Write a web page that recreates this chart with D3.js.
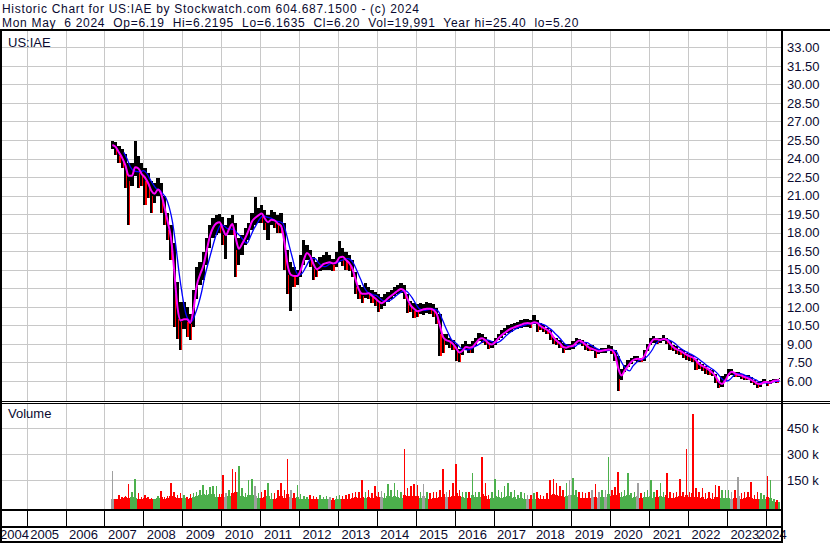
<!DOCTYPE html>
<html>
<head>
<meta charset="utf-8">
<script src="https://cdn.jsdelivr.net/npm/d3@7"></script>
<style>
  body { margin: 0; background: #fff; }
  text { font-family: "Liberation Sans", Arial, sans-serif; font-size: 13px; fill: #0a0a30; }
  .head { font-size: 12px; letter-spacing: 0.7px; white-space: pre; }
</style>
</head>
<body>
<div id="chart"></div>
<script>
// monthly bars, Mar 2007 .. May 2024
const closes = [
  25.1, 24.8, 24.2, 23.9, 23.0, 22.2, 23.0, 23.6, 22.8, 22.7,
  22.2, 21.8, 21.0, 21.3, 21.7, 20.6, 19.6, 18.2, 17.0, 13.0, 11.0, 10.8,
  11.2, 10.8, 10.6, 13.0, 14.4, 14.8, 15.8, 17.2, 18.2, 18.6, 18.9, 18.8,
  17.8, 17.8, 18.8, 18.6, 16.6, 16.8, 17.4, 17.8, 18.6, 19.2, 19.2, 19.6,
  19.5, 18.8, 18.9, 19.2, 18.8, 18.7, 18.4, 16.2, 14.6, 14.6, 14.4, 14.6,
  15.3, 16.3, 16.4, 15.8, 15.1, 15.0, 15.4, 15.5, 15.6, 15.6, 15.4, 15.8,
  16.2, 15.9, 15.7, 15.4, 14.8, 13.6, 13.2, 12.9, 13.2, 13.0, 12.8, 12.6,
  12.3, 12.3, 12.6, 12.8, 13.0, 13.2, 13.4, 13.5, 13.1, 12.2, 12.0, 11.7,
  11.6, 11.8, 11.8, 11.9, 11.8, 11.7, 11.2, 9.8, 9.3, 9.3, 9.1, 8.9,
  8.4, 8.2, 8.7, 8.8, 8.6, 8.9, 9.2, 9.5, 9.4, 9.2, 8.9, 9.0,
  9.3, 9.6, 9.8, 10.0, 10.2, 10.3, 10.4, 10.5, 10.6, 10.7, 10.7, 10.6,
  10.9, 10.5, 10.4, 10.2, 10.1, 9.8, 9.3, 9.2, 8.9, 8.6, 8.8, 8.8,
  8.9, 9.3, 9.25, 9.05, 8.8, 8.6, 8.6, 8.4, 8.4, 8.5, 8.5, 8.6,
  8.4, 7.9, 6.2, 6.7, 7.0, 7.4, 7.7, 7.8, 7.8, 7.7, 8.3, 8.9,
  9.3, 9.45, 9.3, 9.35, 9.45, 9.2, 8.85, 8.6, 8.5, 8.4, 8.2, 8.05,
  7.95, 7.85, 7.5, 7.25, 7.15, 7.0, 6.8, 6.55, 6.2, 5.7, 5.8, 6.3,
  6.75, 6.75, 6.5, 6.5, 6.4, 6.25, 6.2, 6.0, 5.9, 5.65, 5.85, 6.0,
  5.8, 5.95, 6.1, 6.0, 6.2
];
const highs = [
  25.4, 25.3, 25.0, 24.8, 24.4, 23.6, 23.6, 25.4, 24.2, 23.6,
  23.2, 22.8, 22.2, 22.0, 22.4, 22.0, 21.0, 19.6, 18.6, 17.2, 14.0, 12.4,
  12.4, 12.0, 11.4, 13.4, 15.2, 15.6, 16.4, 17.6, 18.6, 19.2, 19.4, 19.5,
  19.3, 18.6, 19.2, 19.4, 18.8, 17.6, 17.8, 18.4, 18.8, 19.6, 20.9, 20.0,
  20.2, 19.8, 19.4, 19.8, 19.7, 19.4, 19.6, 18.8, 16.6, 15.6, 15.2, 15.0,
  16.2, 17.4, 17.0, 16.6, 16.0, 15.6, 16.0, 16.2, 16.4, 16.2, 15.9, 16.4,
  17.3, 16.8, 16.4, 16.2, 15.8, 14.8, 13.8, 13.6, 13.9, 13.6, 13.4, 13.2,
  13.0, 12.8, 13.0, 13.2, 13.4, 13.6, 13.8, 13.9, 13.8, 13.0, 12.5, 12.3,
  12.2, 12.3, 12.2, 12.4, 12.3, 12.2, 11.9, 11.4, 9.8, 9.8, 9.5, 9.3,
  9.0, 8.6, 9.0, 9.2, 9.0, 9.2, 9.5, 9.9, 9.8, 9.6, 9.3, 9.2,
  9.5, 9.8, 10.1, 10.3, 10.5, 10.6, 10.7, 10.8, 10.9, 11.0, 11.0, 10.9,
  11.35, 10.9, 10.7, 10.5, 10.3, 10.1, 9.6, 9.5, 9.3, 9.1, 9.0, 9.0,
  9.2, 9.5, 9.4, 9.3, 9.1, 8.9, 8.9, 8.7, 8.6, 8.7, 8.7, 8.9,
  8.8, 8.5, 8.0, 7.0, 7.3, 7.7, 7.9, 8.0, 8.0, 7.9, 8.5, 9.0,
  9.5, 9.65, 9.5, 9.5, 9.7, 9.5, 9.2, 8.9, 8.8, 8.6, 8.5, 8.3,
  8.2, 8.1, 7.8, 7.5, 7.4, 7.2, 7.0, 6.9, 6.6, 6.0, 6.4, 6.6,
  7.0, 6.95, 6.75, 6.7, 6.6, 6.5, 6.45, 6.3, 6.1, 5.9, 6.0, 6.15,
  6.0, 6.1, 6.2, 6.2, 6.22
];
const lows = [
  24.8, 24.3, 23.6, 23.2, 21.6, 18.6, 21.8, 22.6, 21.6, 21.8,
  20.2, 20.8, 19.6, 20.4, 21.0, 19.6, 18.6, 17.4, 15.8, 10.4, 9.4, 8.5,
  10.2, 9.6, 9.3, 10.4, 12.6, 13.8, 14.2, 15.4, 16.8, 17.6, 17.8, 18.0,
  17.0, 15.9, 17.8, 17.8, 14.4, 15.4, 16.2, 17.0, 17.4, 18.2, 18.6, 18.8,
  18.8, 18.2, 17.4, 18.6, 18.4, 18.0, 18.0, 15.0, 13.0, 11.7, 13.6, 13.8,
  14.4, 15.4, 15.8, 15.2, 14.2, 14.4, 14.9, 15.0, 15.0, 15.0, 14.9, 15.2,
  15.6, 15.3, 15.0, 14.9, 14.4, 13.0, 12.6, 12.3, 12.7, 12.6, 12.3, 12.1,
  11.6, 11.8, 12.1, 12.4, 12.6, 12.9, 13.0, 13.1, 12.6, 11.5, 11.6, 11.1,
  11.2, 11.4, 11.3, 11.5, 11.4, 11.2, 10.6, 8.0, 8.3, 8.9, 8.7, 8.5,
  7.6, 7.5, 8.1, 8.5, 8.3, 8.3, 8.8, 9.2, 9.1, 8.9, 8.6, 8.7,
  8.9, 9.3, 9.5, 9.7, 9.9, 10.0, 10.2, 10.2, 10.3, 10.4, 10.4, 10.3,
  10.6, 10.0, 10.1, 10.0, 9.8, 9.3, 9.0, 8.9, 8.7, 8.3, 8.5, 8.5,
  8.6, 9.0, 9.0, 8.8, 8.5, 8.4, 8.4, 7.9, 8.2, 8.3, 8.3, 8.4,
  8.2, 7.6, 5.2, 6.1, 6.7, 7.1, 7.4, 7.6, 7.5, 7.5, 7.6, 8.4,
  8.9, 9.1, 9.0, 9.1, 9.2, 9.0, 8.5, 8.4, 8.2, 8.1, 7.9, 7.7,
  7.6, 7.5, 6.9, 7.0, 6.8, 6.6, 6.5, 6.4, 5.8, 5.4, 5.5, 6.0,
  6.4, 6.5, 6.3, 6.3, 6.2, 6.1, 6.05, 5.85, 5.7, 5.4, 5.5, 5.8,
  5.6, 5.75, 5.9, 5.85, 6.16
];
// volume in thousands: tallest day of the month, and the usual level
const volPeak = [
  205, 45, 65, 55, 60, 130, 85, 160, 75, 55,
  65, 55, 50, 45, 60, 90, 55, 60, 135, 85, 65, 75,
  65, 55, 70, 75, 85, 95, 125, 95, 110, 120, 115, 70,
  180, 75, 95, 215, 200, 230, 105, 75, 150, 155, 120, 75,
  80, 95, 135, 75, 75, 95, 135, 95, 275, 95, 75, 125,
  70, 60, 55, 65, 60, 55, 65, 55, 60, 55, 50, 60,
  65, 60, 65, 70, 75, 85, 85, 150, 80, 95, 75, 115,
  85, 90, 75, 130, 95, 135, 95, 85, 330, 105, 120, 130,
  125, 85, 130, 80, 75, 80, 85, 95, 215, 85, 95, 135,
  245, 95, 85, 80, 85, 195, 85, 85, 285, 135, 65, 80,
  160, 95, 85, 115, 135, 85, 95, 65, 85, 75, 65, 65,
  75, 80, 65, 60, 75, 150, 155, 135, 115, 95, 135, 150,
  165, 95, 85, 85, 75, 85, 95, 130, 85, 95, 95, 285,
  95, 110, 200, 85, 95, 195, 75, 85, 135, 75, 85, 95,
  150, 85, 95, 135, 85, 195, 80, 75, 85, 155, 85, 330,
  80, 535, 105, 85, 105, 75, 80, 75, 125, 115, 95, 95,
  95, 85, 95, 170, 75, 85, 80, 140, 65, 80, 75, 65,
  175, 150, 40, 35, 25
];
const volBase = [
  45, 40, 45, 50, 55, 50, 55, 50, 45, 45,
  50, 45, 45, 40, 50, 55, 45, 50, 60, 55, 50, 50,
  50, 45, 50, 55, 60, 65, 70, 65, 70, 70, 55, 55,
  70, 55, 60, 75, 80, 85, 60, 55, 65, 65, 60, 50,
  50, 55, 60, 45, 45, 50, 60, 50, 70, 55, 50, 55,
  45, 40, 40, 45, 40, 40, 40, 40, 40, 40, 35, 40,
  40, 40, 45, 45, 50, 55, 50, 55, 50, 55, 50, 60,
  55, 55, 50, 60, 55, 60, 55, 50, 65, 60, 60, 60,
  60, 50, 60, 50, 45, 50, 50, 55, 70, 55, 55, 60,
  75, 60, 55, 50, 50, 65, 55, 55, 70, 60, 45, 50,
  60, 55, 50, 55, 60, 50, 55, 45, 50, 45, 45, 45,
  45, 50, 45, 40, 45, 65, 70, 65, 60, 55, 60, 65,
  65, 55, 50, 50, 50, 50, 55, 55, 50, 55, 55, 70,
  60, 65, 75, 55, 60, 65, 50, 55, 60, 50, 55, 55,
  60, 50, 55, 60, 55, 65, 50, 50, 55, 60, 55, 65,
  55, 75, 55, 50, 55, 45, 50, 45, 55, 55, 50, 50,
  50, 45, 50, 60, 45, 50, 55, 50, 45, 45, 40, 45,
  55, 50, 30, 25, 20
];
const priceTicks = [6, 7.5, 9, 10.5, 12, 13.5, 15, 16.5, 18, 19.5, 21, 22.5, 24, 25.5, 27, 28.5, 30, 31.5, 33];
const volTicks = [150000, 300000, 450000];
const years = [2004, 2005, 2006, 2007, 2008, 2009, 2010, 2011, 2012, 2013, 2014,
  2015, 2016, 2017, 2018, 2019, 2020, 2021, 2022, 2023, 2024];
const title = 'Historic Chart for US:IAE by Stockwatch.com 604.687.1500 - (c) 2024';
const quote = 'Mon May  6 2024  Op=6.19  Hi=6.2195  Lo=6.1635  Cl=6.20  Vol=19,991  Year hi=25.40  lo=5.20';

drawChart();

function drawChart() {
  const width = 830, height = 543;
  const left = 2, right = 781.5;       // plot area edges
  const lastDay = new Date(2024, 4, 6);
  const grid = '#c8c8c8';

  const svg = d3.select('#chart').append('svg').attr('width', width).attr('height', height);

  const x = d3.scaleTime().domain([new Date(2005, 0, 1), new Date(2024, 0, 1)]).range([26.7, 765.8]);
  const y = d3.scaleLinear().domain([6, 33]).range([381, 47.3]);
  const yv = d3.scaleLinear().domain([0, 150000]).range([506.3, 480.3]);
  const gx = yr => Math.round(x(new Date(yr, 0, 1))) + 0.5;

  const months = d3.timeMonth.range(new Date(2007, 2, 1), new Date(2024, 5, 1));
  const data = months.map((m, i) => {
    const end = i === months.length - 1 ? lastDay : d3.timeMonth.offset(m, 1);
    return {
      x0: x(m), x1: Math.min(x(end), right),
      mid: x(new Date((+m + +end) / 2)),
      close: closes[i], high: highs[i], low: lows[i], prev: i ? closes[i - 1] : closes[0],
      peak: volPeak[i] * 1000, base: volBase[i] * 1000
    };
  });
  // moving averages of the closes; slow one sits at month end (it lags more)
  const movingAvg = (n, from, at) => data.map((d, i) => ({
    x: d[at], v: d3.mean(closes.slice(Math.max(0, i - n + 1), i + 1))
  })).slice(from);
  const fast = movingAvg(2, 0, 'mid');
  const slow = movingAvg(4, 3, 'x1');

  // header
  svg.append('text').attr('class', 'head').attr('x', 2).attr('y', 13.3).text(title);
  svg.append('text').attr('class', 'head').attr('x', 2).attr('y', 26.8).text(quote);

  // GRID
  const gridG = svg.append('g').attr('shape-rendering', 'crispEdges').attr('stroke', grid);
  gridG.selectAll('.vgrid-p').data(years.slice(1)).enter().append('line')
    .attr('x1', gx).attr('x2', gx).attr('y1', 31).attr('y2', 401);
  gridG.selectAll('.vgrid-v').data(years.slice(1)).enter().append('line')
    .attr('x1', gx).attr('x2', gx).attr('y1', 404).attr('y2', 509);
  gridG.selectAll('.hgrid-p').data(priceTicks).enter().append('line')
    .attr('x1', left).attr('x2', right)
    .attr('y1', d => Math.round(y(d)) + 0.5).attr('y2', d => Math.round(y(d)) + 0.5);
  gridG.selectAll('.hgrid-v').data(volTicks).enter().append('line')
    .attr('x1', left).attr('x2', right)
    .attr('y1', d => Math.round(yv(d)) + 0.5).attr('y2', d => Math.round(yv(d)) + 0.5);

  // price bars
  const bars = svg.append('g').attr('shape-rendering', 'crispEdges');
  bars.selectAll('.bar').data(data).enter().append('rect')
    .attr('x', d => d.x0).attr('width', d => Math.max(1, d.x1 - d.x0))
    .attr('y', d => y(d.high)).attr('height', d => Math.max(1, y(d.low) - y(d.high)))
    .attr('fill', '#000');
  bars.selectAll('.down').data(data.filter(d => d.close < d.prev)).enter().append('rect')
    .attr('x', d => d.x1 - 1.2).attr('width', 1.2)
    .attr('y', d => y(d.close)).attr('height', d => Math.max(1, y(d.low) - y(d.close)))
    .attr('fill', '#ff0000');

  const line = d3.line().x(d => d.x).y(d => y(d.v)).curve(d3.curveMonotoneX);
  svg.append('path').datum(slow).attr('d', line).attr('fill', 'none').attr('stroke', '#0000ff').attr('stroke-width', 1.3);
  svg.append('path').datum(fast).attr('d', line).attr('fill', 'none').attr('stroke', '#ff00ff').attr('stroke-width', 2);

  // volume
  const volColor = d => d.close > d.prev ? '#4cb04c' : d.close < d.prev ? '#ff0000' : '#a0a0a0';
  const vol = svg.append('g').attr('shape-rendering', 'crispEdges');
  vol.selectAll('.vbase').data(data).enter().append('rect')
    .attr('x', d => d.x0).attr('width', d => Math.max(1, d.x1 - d.x0))
    .attr('y', d => yv(d.base)).attr('height', d => 509 - yv(d.base))
    .attr('fill', volColor);
  vol.selectAll('.vpeak').data(data).enter().append('rect')
    .attr('x', d => d.mid - 0.75).attr('width', 1.5)
    .attr('y', d => yv(d.peak)).attr('height', d => 509 - yv(d.peak))
    .attr('fill', volColor);

  // labels inside panels
  svg.append('text').attr('x', 8).attr('y', 46.5).text('US:IAE');
  svg.append('text').attr('x', 8).attr('y', 418).text('Volume');

  // axes on the right
  const yAxis = d3.axisRight(y).tickValues(priceTicks).tickFormat(d3.format('.2f')).tickSize(0).tickPadding(0);
  svg.append('g').attr('class', 'axis y').attr('transform', 'translate(787,0)').call(yAxis)
    .call(g => g.select('.domain').remove());
  const vAxis = d3.axisRight(yv).tickValues(volTicks).tickFormat(d => d / 1000 + ' k').tickSize(0).tickPadding(0);
  svg.append('g').attr('class', 'axis v').attr('transform', 'translate(787,0)').call(vAxis)
    .call(g => g.select('.domain').remove());

  // year band
  const band = svg.append('g').attr('shape-rendering', 'crispEdges').attr('stroke', '#000');
  band.selectAll('.ytick').data(years.slice(1)).enter().append('line')
    .attr('x1', gx).attr('x2', gx).attr('y1', 510).attr('y2', 526);
  svg.append('g').selectAll('.year').data(years).enter().append('text')
    .attr('text-anchor', 'middle')
    .attr('x', d => Math.max(14.5, (Math.max(x(new Date(d, 0, 1)), left) + Math.min(x(new Date(d + 1, 0, 1)), right)) / 2 - 1.5))
    .attr('y', 539.3)
    .text(d => d);

  // frame
  const frame = svg.append('g').attr('shape-rendering', 'crispEdges').attr('fill', '#000');
  frame.append('rect').attr('x', 0).attr('y', 29).attr('width', width).attr('height', 2);
  frame.append('rect').attr('x', 0).attr('y', 29).attr('width', 2).attr('height', height - 29);
  frame.append('rect').attr('x', 781).attr('y', 29).attr('width', 2).attr('height', height - 29);
  frame.append('rect').attr('x', 0).attr('y', 401).attr('width', width).attr('height', 1);
  frame.append('rect').attr('x', 0).attr('y', 403).attr('width', width).attr('height', 1);
  frame.append('rect').attr('x', 0).attr('y', 509).attr('width', 783).attr('height', 2);
  frame.append('rect').attr('x', 0).attr('y', 525.5).attr('width', 783).attr('height', 2);
  frame.append('rect').attr('x', 0).attr('y', 541).attr('width', 783).attr('height', 2);
}
</script>
</body>
</html>
